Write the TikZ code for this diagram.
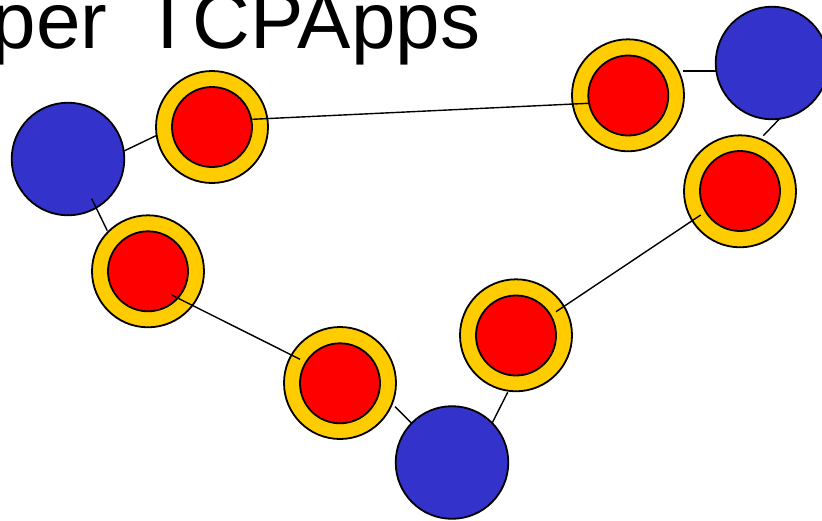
\documentclass[tikz,border=0pt]{standalone}
\usepackage{fontspec}
\setmainfont{Liberation Sans}
\definecolor{hostblue}{HTML}{3333CC}
\definecolor{ringgold}{HTML}{FFCC00}
\definecolor{corered}{HTML}{FF0000}
\begin{document}
\begin{tikzpicture}[x=1pt,y=-1pt,
  hostnode/.style={circle,draw=black,line width=1.8pt,fill=hostblue,minimum size=112.6pt,inner sep=0pt},
  ringnode/.style={circle,draw=black,line width=1.8pt,fill=ringgold,minimum size=112pt,inner sep=0pt},
  corenode/.style={circle,draw=black,line width=1.8pt,fill=corered,minimum size=80pt,inner sep=0pt},
  link/.style={draw=black,line width=1.4pt}]
\useasboundingbox (0,0) rectangle (822,520);
\node[anchor=base west,inner sep=0pt,font=\fontsize{80}{80}\selectfont] (title) at (-8.3,48.3) {per \hspace{14.1pt}TCPApps};
% hosts
\node[hostnode] (h1) at (68,159) {};
\node[hostnode] (h2) at (452,462.5) {};
\node[hostnode] (h3) at (772,63) {};
% routers
\node[ringnode] (r1o) at (212,127) {};
\node[corenode] (r1i) at (212,127) {};
\node[ringnode] (r2o) at (148,271.3) {};
\node[corenode] (r2i) at (148,271.3) {};
\node[ringnode] (r3o) at (340,383) {};
\node[corenode] (r3i) at (340,383.3) {};
\node[ringnode] (r4o) at (516,335.3) {};
\node[corenode] (r4i) at (516,335.5) {};
\node[ringnode] (r5o) at (740,191.3) {};
\node[corenode] (r5i) at (740,191) {};
\node[ringnode] (r6o) at (628,95.3) {};
\node[corenode] (r6i) at (628.3,95.5) {};
% connector end points
\coordinate (a1) at (124,151);   \coordinate (a2) at (156,135.7);
\coordinate (b1) at (252.3,119.3); \coordinate (b2) at (588.3,103.3);
\coordinate (c1) at (91.7,198.7); \coordinate (c2) at (107.3,230.7);
\coordinate (d1) at (171.7,295);  \coordinate (d2) at (300,359.3);
\coordinate (e1) at (395,406.7);  \coordinate (e2) at (411.7,423.3);
\coordinate (f1) at (492.3,422.7); \coordinate (f2) at (507.7,392.3);
\coordinate (g1) at (556,311.7);  \coordinate (g2) at (700.7,215);
\coordinate (k1) at (763.3,135.7); \coordinate (k2) at (780,118.3);
\coordinate (m1) at (683.3,71);   \coordinate (m2) at (716,71);
\draw[link] (a1) -- (a2);
\draw[link] (b1) -- (b2);
\draw[link] (c1) -- (c2);
\draw[link] (d1) -- (d2);
\draw[link] (e1) -- (e2);
\draw[link] (f1) -- (f2);
\draw[link] (g1) -- (g2);
\draw[link] (k1) -- (k2);
\draw[link] (m1) -- (m2);
\end{tikzpicture}
\end{document}
